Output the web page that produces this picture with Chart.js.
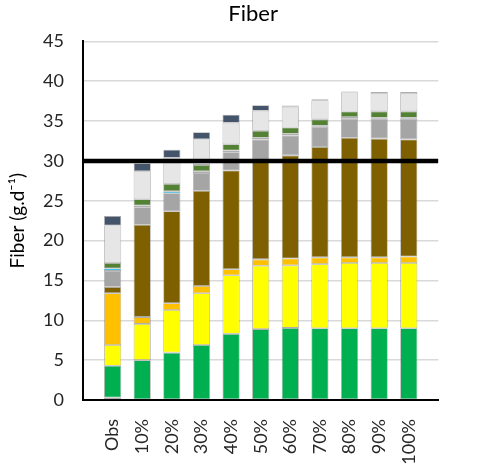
<!DOCTYPE html>
<html>
<head>
<meta charset="utf-8">
<script src="https://cdn.jsdelivr.net/npm/chart.js@4"></script>
<style>
  html, body { margin: 0; padding: 0; background: #fff; }
  #wrap { width: 479px; height: 466px; }
</style>
</head>
<body>
<div id="wrap"><canvas id="graph"></canvas></div>
<script>
const categories = ["Obs", "10%", "20%", "30%", "40%", "50%", "60%", "70%", "80%", "90%", "100%"];
const yTicks = [0, 5, 10, 15, 20, 25, 30, 35, 40, 45];
const threshold = 30;

// segment heights, bottom to top
const base      = [0.3, 0, 0, 0, 0, 0, 0, 0, 0, 0, 0];
const green     = [4.0, 5.0, 5.95, 6.9, 8.3, 8.9, 9.05, 9.0, 9.0, 9.0, 9.0];
const yellow    = [2.6, 4.55, 5.35, 6.5, 7.35, 7.95, 7.85, 8.05, 8.2, 8.2, 8.2];
const orange    = [6.5, 0.85, 0.85, 0.9, 0.75, 0.8, 0.85, 0.85, 0.7, 0.7, 0.8];
const brown     = [0.8, 11.6, 11.55, 11.95, 12.4, 12.35, 12.95, 13.85, 15.0, 14.9, 14.7];
const gray      = [2.0, 2.2, 2.25, 2.25, 2.3, 2.7, 2.5, 2.55, 2.4, 2.5, 2.6];
const cyan      = [0.3, 0.2, 0.25, 0.2, 0.2, 0.2, 0.2, 0.12, 0.2, 0.12, 0.12];
const olive     = [0.7, 0.8, 0.9, 0.8, 0.8, 0.9, 0.8, 0.8, 0.7, 0.8, 0.8];
const lightGray = [4.7, 3.5, 3.3, 3.2, 2.7, 2.5, 2.6, 2.4, 2.4, 2.3, 2.3];
const slate     = [1.2, 1.0, 1.0, 0.9, 1.0, 0.7, 0.15, 0.12, 0.12, 0.12, 0.12];

const series = [
  [base, "#8faadc"],
  [green, "#00b050"],
  [yellow, "#ffff00"],
  [orange, "#ffc000"],
  [brown, "#7f6000"],
  [gray, "#a5a5a5"],
  [cyan, "#00b0f0"],
  [olive, "#548235"],
  [lightGray, "#e7e6e6"],
  [slate, "#44546a"]
];

const font = "Lato, 'DejaVu Sans', sans-serif";
const textColor = "#262626";

const bars = series.map(([vals, color], k) => ({
  type: "bar",
  label: "s" + k,
  data: vals.map((v, i) => ({ x: i, y: v })),
  backgroundColor: color,
  borderColor: "rgba(110,110,110,0.55)",
  borderWidth: 0.8,
  borderSkipped: false,
  barPercentage: 0.58,
  categoryPercentage: 1,
  stack: "s",
  order: 1
}));

const refLine = {
  type: "line",
  label: "ref",
  data: [{ x: -1, y: threshold }, { x: categories.length, y: threshold }],
  borderColor: "#000",
  borderWidth: 4.5,
  pointRadius: 0,
  stack: "ref",
  order: 0
};

new Chart(document.getElementById("graph"), {
  type: "bar",
  data: { datasets: [...bars, refLine] },
  options: {
    responsive: true,
    maintainAspectRatio: false,
    animation: false,
    layout: { padding: { right: 1, bottom: 0 } },
    plugins: {
      legend: { display: false },
      tooltip: { enabled: false },
      title: {
        display: true,
        text: "     Fiber",
        color: "#000",
        font: { family: font, size: 22, weight: "normal" },
        padding: { top: 1, bottom: 14 }
      }
    },
    scales: {
      x: {
        type: "linear",
        min: -1,
        max: categories.length,
        offset: false,
        afterFit: s => { s.height = 66; },
        grid: { display: false, drawTicks: false },
        border: { color: "#000", width: 2 },
        ticks: {
          stepSize: 1,
          autoSkip: false,
          maxRotation: 90,
          minRotation: 90,
          padding: 19,
          color: textColor,
          font: { family: font, size: 18 },
          callback: v => categories[v] ?? ""
        }
      },
      y: {
        stacked: true,
        min: 0,
        max: 45,
        afterFit: s => { s.width = 83; },
        afterBuildTicks: s => { s.ticks = yTicks.map(v => ({ value: v })); },
        grid: { color: "#d9d9d9", lineWidth: 1.5, drawTicks: false },
        border: { color: "#000", width: 2 },
        ticks: {
          padding: 19,
          color: textColor,
          font: { family: font, size: 18 }
        },
        title: {
          display: true,
          text: "Fiber (g.d⁻¹)",
          color: "#000",
          font: { family: font, size: 19 },
          padding: { top: 6, bottom: 0 }
        }
      }
    }
  }
});
</script>
</body>
</html>
